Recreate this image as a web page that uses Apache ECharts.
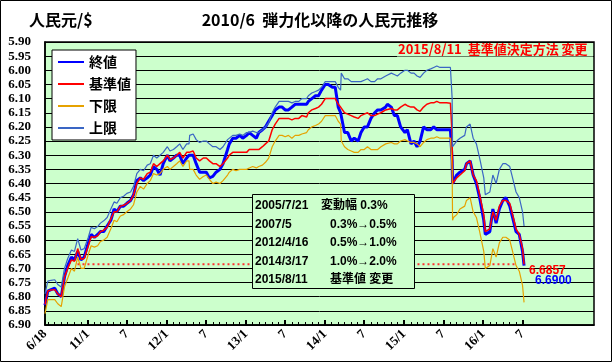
<!DOCTYPE html>
<html><head><meta charset="utf-8">
<script src="https://cdn.jsdelivr.net/npm/echarts@6/dist/echarts.min.js"></script>
<style>html,body{margin:0;padding:0;background:#fff}#c{width:613px;height:363px}</style>
</head><body><div id="c"></div>
<script>
const dates = [
'2010-06-18','2010-07-01','2010-07-16','2010-08-02','2010-08-16','2010-09-01','2010-09-16','2010-10-01','2010-10-18','2010-11-01',
'2010-11-16','2010-12-01','2010-12-16','2011-01-04','2011-01-17','2011-02-01','2011-02-16','2011-03-01','2011-03-16','2011-04-01',
'2011-04-18','2011-05-03','2011-05-16','2011-06-01','2011-06-16','2011-07-01','2011-07-18','2011-08-01','2011-08-16','2011-09-01',
'2011-09-16','2011-10-03','2011-10-17','2011-11-01','2011-11-16','2011-12-01','2011-12-16','2012-01-04','2012-01-16','2012-02-01',
'2012-02-16','2012-03-01','2012-03-16','2012-04-02','2012-04-13','2012-04-16','2012-05-02','2012-05-16','2012-06-01','2012-06-18',
'2012-07-02','2012-07-16','2012-08-01','2012-08-16','2012-09-03','2012-09-17','2012-10-08','2012-10-16','2012-11-01','2012-11-16',
'2012-12-03','2012-12-17','2013-01-04','2013-01-16','2013-02-01','2013-02-18','2013-03-01','2013-03-18','2013-04-01','2013-04-16',
'2013-05-02','2013-05-16','2013-06-03','2013-06-17','2013-07-01','2013-07-16','2013-08-01','2013-08-16','2013-09-02','2013-09-16',
'2013-10-08','2013-10-16','2013-11-01','2013-11-18','2013-12-02','2013-12-16','2014-01-02','2014-01-16','2014-02-04','2014-02-17',
'2014-03-03','2014-03-14','2014-03-17','2014-04-01','2014-04-16','2014-05-02','2014-05-16','2014-06-03','2014-06-16','2014-07-01',
'2014-07-16','2014-08-01','2014-08-18','2014-09-01','2014-09-16','2014-10-08','2014-10-16','2014-11-03','2014-11-17','2014-12-01',
'2014-12-16','2015-01-05','2015-01-16','2015-02-02','2015-02-16','2015-03-02','2015-03-16','2015-04-01','2015-04-16','2015-05-04',
'2015-05-18','2015-06-01','2015-06-16','2015-07-01','2015-07-16','2015-08-03','2015-08-10','2015-08-11','2015-08-13','2015-08-17',
'2015-09-01','2015-09-16','2015-10-08','2015-10-16','2015-11-02','2015-11-16','2015-12-01','2015-12-16','2016-01-04','2016-01-11',
'2016-02-01','2016-02-15','2016-03-01','2016-03-16','2016-04-01','2016-04-15','2016-05-03','2016-05-16','2016-06-01','2016-06-16',
'2016-07-01','2016-07-08'
];
const closeVals = [
6.83,6.78,6.775,6.77,6.79,6.80,6.73,6.69,6.66,6.67,
6.64,6.67,6.66,6.61,6.58,6.59,6.58,6.57,6.57,6.55,
6.53,6.49,6.50,6.48,6.48,6.47,6.46,6.44,6.39,6.38,
6.39,6.38,6.37,6.34,6.35,6.37,6.33,6.30,6.32,6.31,
6.30,6.30,6.33,6.31,6.30,6.30,6.30,6.33,6.36,6.36,
6.36,6.38,6.375,6.36,6.35,6.33,6.28,6.26,6.24,6.24,
6.23,6.24,6.23,6.22,6.23,6.24,6.22,6.21,6.20,6.18,
6.16,6.14,6.13,6.13,6.14,6.14,6.13,6.12,6.12,6.12,
6.12,6.11,6.10,6.09,6.09,6.07,6.05,6.05,6.06,6.06,
6.13,6.15,6.15,6.22,6.22,6.25,6.24,6.25,6.22,6.20,
6.20,6.17,6.15,6.14,6.14,6.13,6.12,6.13,6.16,6.16,
6.20,6.22,6.21,6.26,6.25,6.27,6.25,6.20,6.21,6.21,
6.20,6.21,6.21,6.21,6.21,6.21,6.21,6.32,6.40,6.395,
6.37,6.36,6.35,6.33,6.32,6.37,6.40,6.45,6.53,6.58,
6.57,6.49,6.54,6.49,6.46,6.45,6.48,6.52,6.57,6.58,
6.64,6.69
];
const midVals = [
6.827,6.78,6.776,6.775,6.79,6.80,6.73,6.70,6.67,6.675,
6.63,6.668,6.665,6.62,6.588,6.59,6.585,6.57,6.565,6.555,
6.525,6.50,6.50,6.48,6.477,6.47,6.46,6.44,6.40,6.38,
6.385,6.365,6.36,6.33,6.34,6.33,6.32,6.30,6.315,6.31,
6.30,6.29,6.31,6.29,6.29,6.29,6.285,6.31,6.32,6.31,
6.31,6.32,6.33,6.33,6.34,6.33,6.31,6.30,6.29,6.29,
6.29,6.29,6.29,6.28,6.28,6.28,6.28,6.27,6.26,6.25,
6.21,6.19,6.17,6.17,6.17,6.17,6.175,6.17,6.17,6.16,
6.165,6.15,6.14,6.135,6.13,6.12,6.10,6.10,6.10,6.10,
6.12,6.13,6.13,6.15,6.155,6.16,6.165,6.17,6.16,6.155,
6.15,6.16,6.16,6.155,6.15,6.14,6.14,6.135,6.14,6.14,
6.13,6.12,6.125,6.13,6.13,6.14,6.145,6.13,6.12,6.115,
6.115,6.11,6.115,6.115,6.115,6.116,6.116,6.23,6.40,6.395,
6.38,6.37,6.355,6.33,6.32,6.37,6.39,6.44,6.51,6.57,
6.56,6.50,6.53,6.48,6.46,6.46,6.47,6.51,6.56,6.58,
6.63,6.6857
];
const upperVals = [
6.79,6.745,6.742,6.74,6.757,6.766,6.70,6.665,6.635,6.64,
6.595,6.635,6.63,6.59,6.555,6.56,6.552,6.54,6.532,6.52,
6.49,6.465,6.47,6.45,6.445,6.435,6.43,6.41,6.365,6.35,
6.355,6.335,6.33,6.30,6.31,6.30,6.29,6.27,6.285,6.28,
6.27,6.26,6.28,6.26,6.26,6.23,6.225,6.245,6.255,6.25,
6.25,6.26,6.27,6.27,6.28,6.27,6.245,6.24,6.23,6.23,
6.225,6.23,6.22,6.22,6.215,6.22,6.22,6.21,6.20,6.185,
6.15,6.13,6.11,6.11,6.11,6.11,6.115,6.11,6.11,6.10,
6.10,6.09,6.08,6.075,6.07,6.06,6.04,6.04,6.04,6.04,
6.06,6.07,6.01,6.03,6.03,6.04,6.04,6.04,6.04,6.035,
6.03,6.04,6.04,6.03,6.03,6.02,6.015,6.01,6.015,6.02,
6.01,6.00,6.00,6.01,6.01,6.02,6.025,6.01,6.00,5.995,
5.99,5.985,5.99,5.99,5.99,5.99,5.99,6.10,6.27,6.265,
6.25,6.24,6.23,6.20,6.19,6.24,6.26,6.31,6.38,6.44,
6.43,6.37,6.40,6.35,6.33,6.33,6.34,6.38,6.43,6.45,
6.50,6.55
];
const lowerVals = [
6.86,6.81,6.81,6.81,6.825,6.835,6.765,6.735,6.70,6.71,
6.66,6.70,6.70,6.65,6.62,6.625,6.62,6.605,6.60,6.59,
6.56,6.53,6.535,6.515,6.51,6.50,6.49,6.475,6.43,6.41,
6.42,6.40,6.39,6.365,6.37,6.365,6.35,6.34,6.35,6.34,
6.33,6.32,6.34,6.32,6.32,6.35,6.35,6.37,6.385,6.375,
6.37,6.385,6.40,6.395,6.40,6.39,6.37,6.36,6.35,6.355,
6.35,6.35,6.35,6.345,6.34,6.345,6.34,6.335,6.325,6.31,
6.27,6.25,6.23,6.23,6.235,6.23,6.24,6.23,6.23,6.225,
6.22,6.21,6.20,6.195,6.19,6.18,6.16,6.16,6.16,6.16,
6.18,6.19,6.25,6.27,6.28,6.285,6.29,6.29,6.28,6.28,
6.27,6.28,6.28,6.28,6.27,6.26,6.26,6.255,6.26,6.26,
6.25,6.245,6.25,6.255,6.255,6.26,6.27,6.255,6.245,6.24,
6.24,6.235,6.24,6.24,6.24,6.24,6.24,6.35,6.53,6.52,
6.51,6.49,6.48,6.46,6.45,6.50,6.52,6.57,6.64,6.70,
6.69,6.63,6.66,6.61,6.59,6.59,6.60,6.64,6.69,6.71,
6.76,6.82
];
const refLineDates = ['2010-11-15','2016-06-05'];
const refLineValue = 6.6857;
const xTickDates = ['2010-06-18','2011-01-01','2011-07-01','2012-01-01','2012-07-01','2013-01-01','2013-07-01','2014-01-01','2014-07-01','2015-01-01','2015-07-01','2016-01-01','2016-07-01'];
const xTickLabels = ['6/18','11/1','7','12/1','7','13/1','7','14/1','7','15/1','7','16/1','7'];
const xEndDate = '2017-05-27';
const seriesNames = ['終値','基準値','下限','上限'];
const noteDates = ['2005/7/21','2007/5','2012/4/16','2014/3/17','2015/8/11'];
const noteTexts = ['変動幅 0.3%','0.3%→0.5%','0.5%→1.0%','1.0%→2.0%','基準値 変更'];

const ts = s => new Date(s + 'T00:00:00').getTime();
const tickTs = xTickDates.map(ts);
const labelMap = {};
tickTs.forEach((t, i) => labelMap[t] = xTickLabels[i]);
const monthTs = [];
for (let y = 2010; y <= 2016; y++) for (let m = 1; m <= 12; m++) {
  const s = y + '-' + String(m).padStart(2, '0') + '-01';
  if (s > '2010-06-18' && s <= '2016-07-01') monthTs.push(ts(s));
}
const pair = vals => dates.map((d, i) => [ts(d), vals[i]]);
const SANS = "'Liberation Sans','Noto Sans CJK JP',sans-serif";
const CJK = "'Noto Sans CJK JP','Liberation Sans',sans-serif";
const SERIF = "'Liberation Serif','DejaVu Serif',serif";
const xMinTs = ts(xTickDates[0]), xMaxTs = ts(xEndDate);

const chart = echarts.init(document.getElementById('c'), null, {renderer: 'canvas'});
const noteGraphics = [];
noteDates.forEach((d, i) => {
  const y = 206 + i * 18.5;
  noteGraphics.push({type: 'text', x: 255, y: y, z: 101, style: {text: d, font: 'bold 12px ' + SANS, fill: '#000', textVerticalAlign: 'middle'}});
  noteGraphics.push({type: 'text', x: i === 0 ? 321 : 330, y: y, z: 101, style: {text: noteTexts[i], font: 'bold 12px ' + SANS, fill: '#000', textVerticalAlign: 'middle'}});
});

const option = {
  animation: false,
  backgroundColor: '#fff',
  grid: {left: 45, right: 19, top: 42, bottom: 38, show: true, backgroundColor: '#CCFFCC', borderColor: '#000', borderWidth: 1.5},
  legend: {
    data: seriesNames, orient: 'vertical', left: 52, top: 50,
    padding: [5, 5, 5, 5], itemWidth: 26, itemHeight: 12, itemGap: 8,
    backgroundColor: '#fff', borderColor: '#000', borderWidth: 1,
    itemStyle: {color: 'rgba(0,0,0,0)', borderWidth: 0},
    textStyle: {fontFamily: CJK, fontWeight: 'bold', fontSize: 14, color: '#000'}
  },
  xAxis: [{
    type: 'value', min: xMinTs, max: xMaxTs,
    axisLine: {lineStyle: {color: '#000', width: 1.5}},
    splitLine: {show: false},
    axisTick: {customValues: tickTs, inside: true, length: 5, lineStyle: {color: '#000', width: 2}},
    axisLabel: {customValues: tickTs, rotate: 45, margin: 7, color: '#000', fontFamily: SERIF, fontWeight: 'bold', fontSize: 13,
      formatter: v => labelMap[v] || ''}
  }, {
    type: 'value', min: xMinTs, max: xMaxTs, position: 'bottom',
    axisLine: {show: false}, splitLine: {show: false}, axisLabel: {show: false},
    axisTick: {customValues: monthTs, inside: true, length: 3, lineStyle: {color: '#000', width: 1}}
  }],
  yAxis: {
    type: 'value', inverse: true, min: 5.9, max: 6.9, interval: 0.05,
    axisLine: {show: true, lineStyle: {color: '#000', width: 1.5}},
    axisTick: {show: false},
    splitLine: {lineStyle: {color: '#000', width: 1}},
    axisLabel: {formatter: v => v.toFixed(2), margin: 14, color: '#000', fontFamily: SERIF, fontWeight: 'bold', fontSize: 13}
  },
  series: [
    {name: seriesNames[0], type: 'line', data: pair(closeVals), symbol: 'none', z: 3,
      lineStyle: {color: '#0000FF', width: 3}, itemStyle: {color: '#0000FF'},
      endLabel: {show: true, formatter: p => p.value[1].toFixed(4), color: '#0000FF', fontFamily: SANS, fontWeight: 'bold', fontSize: 12, offset: [3, 15]}},
    {name: seriesNames[1], type: 'line', data: pair(midVals), symbol: 'none', z: 4,
      lineStyle: {color: '#FF0000', width: 1.5}, itemStyle: {color: '#FF0000'},
      endLabel: {show: true, formatter: p => p.value[1].toFixed(4), color: '#FF0000', fontFamily: SANS, fontWeight: 'bold', fontSize: 12, offset: [-3, 6]}},
    {name: seriesNames[2], type: 'line', data: pair(lowerVals), symbol: 'none', z: 5,
      lineStyle: {color: '#E6A200', width: 1.2}, itemStyle: {color: '#E6A200'}},
    {name: seriesNames[3], type: 'line', data: pair(upperVals), symbol: 'none', z: 5,
      lineStyle: {color: '#3A66C4', width: 1.2}, itemStyle: {color: '#3A66C4'}},
    {name: 'ref', type: 'line', data: refLineDates.map(d => [ts(d), refLineValue]), symbol: 'none', z: 2, silent: true,
      lineStyle: {color: '#FF3030', width: 2, type: [2, 3]}}
  ],
  graphic: [
    {type: 'rect', z: 100, shape: {x: 0.5, y: 0.5, width: 611, height: 361}, style: {fill: 'none', stroke: '#000', lineWidth: 1}},
    {type: 'text', x: 29, y: 20, z: 100, style: {text: '人民元/$', font: 'bold 16px ' + CJK, fill: '#000', textVerticalAlign: 'middle'}},
    {type: 'text', x: 320, y: 20, z: 100, style: {text: '2010/6  弾力化以降の人民元推移', font: 'bold 16px ' + CJK, fill: '#000', textAlign: 'center', textVerticalAlign: 'middle'}},
    {type: 'rect', z: 100, shape: {x: 397, y: 43, width: 196, height: 13.5}, style: {fill: '#CCFFCC'}},
    {type: 'text', x: 398, y: 49.5, z: 101, style: {text: '2015/8/11  基準値決定方法 変更', font: 'bold 13px ' + CJK, fill: '#FF0000', textVerticalAlign: 'middle'}},
    {type: 'rect', z: 100, shape: {x: 252.5, y: 194.5, width: 162, height: 94}, style: {fill: '#CCFFCC', stroke: '#000', lineWidth: 1}}
  ].concat(noteGraphics)
};
chart.setOption(option);
</script>
</body></html>
